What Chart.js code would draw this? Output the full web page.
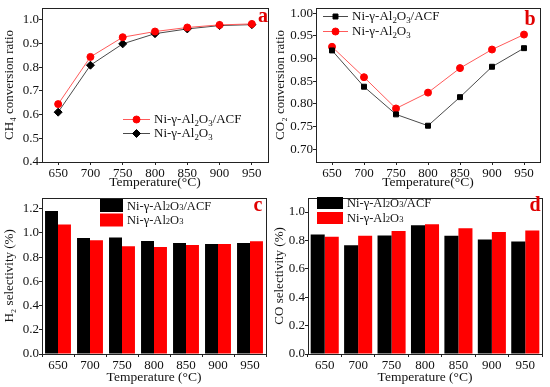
<!DOCTYPE html>
<html><head><meta charset="utf-8">
<script src="https://cdn.jsdelivr.net/npm/chart.js@4.4.1/dist/chart.umd.min.js"></script>
<style>
html,body{margin:0;padding:0;background:#fff;}
#wrap{position:relative;width:550px;height:387px;overflow:hidden;}
canvas{position:absolute;}
</style></head>
<body><div id="wrap">
<canvas id="ca" width="275" height="192" style="left:0;top:0"></canvas>
<canvas id="cb" width="279" height="192" style="left:271px;top:0"></canvas>
<canvas id="cc" width="275" height="197" style="left:0;top:190px"></canvas>
<canvas id="cd" width="280" height="197" style="left:270px;top:190px"></canvas>
</div>
<script>
const temps = ['650','700','750','800','850','900','950'];
const labelACF = 'Ni-γ-Al₂O₃/ACF';
const labelAl = 'Ni-γ-Al₂O₃';
const ch4ACF = [0.644,0.843,0.926,0.950,0.967,0.978,0.982];
const ch4Al  = [0.610,0.808,0.898,0.941,0.961,0.975,0.979];
const co2ACF = [0.918,0.838,0.777,0.752,0.815,0.882,0.923];
const co2Al  = [0.926,0.859,0.790,0.825,0.879,0.920,0.953];
const h2ACF  = [1.18,0.959,0.962,0.934,0.917,0.909,0.917];
const h2Al   = [1.07,0.940,0.890,0.884,0.900,0.909,0.931];
const coACF  = [0.841,0.766,0.834,0.907,0.832,0.807,0.793];
const coAl   = [0.825,0.832,0.866,0.914,0.886,0.859,0.870];

const FONT = "'Liberation Serif','Times New Roman',serif";
const AX = '#222';
const SUBS = '₀₁₂₃₄₅₆₇₈₉';

function drawRich(ctx, text, x, y, size, lowered){
  ctx.textAlign='left'; ctx.textBaseline='alphabetic';
  let cx = x;
  for (const ch of text){
    const i = SUBS.indexOf(ch);
    if (i >= 0){
      ctx.font = (size*0.68)+'px '+FONT;
      ctx.fillText(String(i), cx, y + (lowered ? size*0.22 : 0));
      cx += ctx.measureText(String(i)).width;
    } else {
      ctx.font = size+'px '+FONT;
      ctx.fillText(ch, cx, y);
      cx += ctx.measureText(ch).width;
    }
  }
}

const framePlugin = {
  id:'frame',
  afterDatasetsDraw(chart){
    const {ctx, chartArea:a} = chart;
    ctx.save(); ctx.strokeStyle = AX; ctx.lineWidth = 1;
    ctx.strokeRect(Math.round(a.left)+0.5, Math.round(a.top)+0.5, Math.round(a.right-a.left), Math.round(a.bottom-a.top));
    ctx.restore();
  },
  afterDraw(chart){
    const o = chart.options.plugins.myLegend;
    const ctx = chart.ctx;
    if (o){
      ctx.save();
      chart.data.datasets.forEach((ds, i) => {
        const yc = o.y + i*o.dy;
        if (o.type === 'line'){
          ctx.strokeStyle = ds.borderColor; ctx.lineWidth = 1;
          ctx.beginPath(); ctx.moveTo(o.x, yc+0.5); ctx.lineTo(o.x+o.w, yc+0.5); ctx.stroke();
          ctx.fillStyle = ds.pointBackgroundColor; ctx.strokeStyle = ds.pointBackgroundColor;
          Chart.helpers.drawPoint(ctx, {pointStyle: ds.pointStyle, radius: ds.pointRadius, rotation: 0, borderWidth:1}, o.x+o.w/2, yc+0.5);
        } else {
          ctx.fillStyle = ds.backgroundColor;
          ctx.fillRect(o.x, yc - o.h/2, o.w, o.h);
        }
        ctx.fillStyle = '#111';
        drawRich(ctx, ds.label, o.x + o.w + o.gap, yc + o.size*0.33, o.size, o.lowered);
      });
      ctx.restore();
    }
    const p = chart.options.plugins.panelLabel;
    if (p){
      ctx.save();
      ctx.fillStyle = '#e00000';
      ctx.font = 'bold 20px '+FONT;
      ctx.textAlign='center'; ctx.textBaseline='middle';
      ctx.fillText(p.text, p.x, p.y);
      ctx.restore();
    }
  }
};

function yAxis(min, max, step, dec, title, width){
  return {
    min, max,
    border:{display:false},
    grid:{display:true, drawOnChartArea:false, drawTicks:true, tickLength:3, color:AX},
    ticks:{stepSize:step, includeBounds:false, padding:0, color:'#111', font:{family:FONT,size:13},
      callback:(v)=>Number(v).toFixed(dec)},
    title:{display:true, text:title, color:'#111', font:{family:FONT,size:13}, padding:{top:2,bottom:0}},
    afterFit:(s)=>{ s.width = width; }
  };
}
function xAxis(title, height, offset){
  return {
    offset:true,
    border:{display:false},
    grid:{display:true, drawOnChartArea:false, drawTicks:true, tickLength:3, color:AX, offset:offset},
    ticks:{padding:1, color:'#111', maxRotation:0, font:{family:FONT,size:13}},
    title:{display:true, text:title, color:'#111', font:{family:FONT,size:13.5}, padding:{top:0,bottom:1}},
    afterFit:(s)=>{ s.height = height; }
  };
}
const baseOpts = {responsive:false, animation:false, events:[]};

new Chart(document.getElementById('ca'), {
  type:'line',
  data:{labels:temps, datasets:[
    {label:labelACF, data:ch4ACF, borderColor:'#ff5a5a', borderWidth:1, pointStyle:'circle', pointRadius:3.5, pointBackgroundColor:'#ff0000', pointBorderColor:'#ff0000'},
    {label:labelAl, data:ch4Al, borderColor:'#4a4a4a', borderWidth:1, pointStyle:'rectRot', pointRadius:4, pointBackgroundColor:'#000', pointBorderColor:'#000'}
  ]},
  options:{...baseOpts,
    layout:{padding:{top:5,right:7,left:0,bottom:0}},
    scales:{x:xAxis('Temperature(°C)',30,false), y:yAxis(0.4,1.05,0.1,1,'CH₄ conversion ratio',42)},
    plugins:{legend:{display:false}, tooltip:{enabled:false},
      myLegend:{type:'line', x:123, y:119, dy:14, w:27, gap:4, size:13, lowered:true},
      panelLabel:{text:'a', x:263, y:17}}
  },
  plugins:[framePlugin]
});

new Chart(document.getElementById('cb'), {
  type:'line',
  data:{labels:temps, datasets:[
    {label:labelACF, data:co2ACF, borderColor:'#4a4a4a', borderWidth:1, pointStyle:'rect', pointRadius:3.5, pointBackgroundColor:'#000', pointBorderColor:'#000'},
    {label:labelAl, data:co2Al, borderColor:'#ff5a5a', borderWidth:1, pointStyle:'circle', pointRadius:3.5, pointBackgroundColor:'#ff0000', pointBorderColor:'#ff0000'}
  ]},
  options:{...baseOpts,
    layout:{padding:{top:5,right:10,left:0,bottom:0}},
    scales:{x:xAxis('Temperature(°C)',30,false), y:yAxis(0.672,1.012,0.05,2,'CO₂ conversion ratio',45)},
    plugins:{legend:{display:false}, tooltip:{enabled:false},
      myLegend:{type:'line', x:52, y:16, dy:15, w:25, gap:4, size:13, lowered:true},
      panelLabel:{text:'b', x:259, y:20}}
  },
  plugins:[framePlugin]
});

new Chart(document.getElementById('cc'), {
  type:'bar',
  data:{labels:temps, datasets:[
    {label:labelACF, data:h2ACF, backgroundColor:'#000', categoryPercentage:0.81, barPercentage:1.0},
    {label:labelAl, data:h2Al, backgroundColor:'#ff0000', categoryPercentage:0.81, barPercentage:1.0}
  ]},
  options:{...baseOpts,
    layout:{padding:{top:4,right:9,left:0,bottom:0}},
    scales:{x:xAxis('Temperature (°C)',33,true), y:yAxis(0,1.29,0.2,1,'H₂ selectivity (%)',42)},
    plugins:{legend:{display:false}, tooltip:{enabled:false},
      myLegend:{type:'box', x:100, y:15.5, dy:14.5, w:23, h:13, gap:4, size:12.5, lowered:false},
      panelLabel:{text:'c', x:258, y:16}}
  },
  plugins:[framePlugin]
});

new Chart(document.getElementById('cd'), {
  type:'bar',
  data:{labels:temps, datasets:[
    {label:labelACF, data:coACF, backgroundColor:'#000', categoryPercentage:0.84, barPercentage:1.0},
    {label:labelAl, data:coAl, backgroundColor:'#ff0000', categoryPercentage:0.84, barPercentage:1.0}
  ]},
  options:{...baseOpts,
    layout:{padding:{top:4,right:8,left:0,bottom:0}},
    scales:{x:xAxis('Temperature (°C)',33,true), y:yAxis(0,1.1,0.2,1,'CO selectivity (%)',38)},
    plugins:{legend:{display:false}, tooltip:{enabled:false},
      myLegend:{type:'box', x:47, y:13, dy:15, w:26, h:12, gap:4, size:12.5, lowered:false},
      panelLabel:{text:'d', x:265, y:16}}
  },
  plugins:[framePlugin]
});
</script>
</body></html>
